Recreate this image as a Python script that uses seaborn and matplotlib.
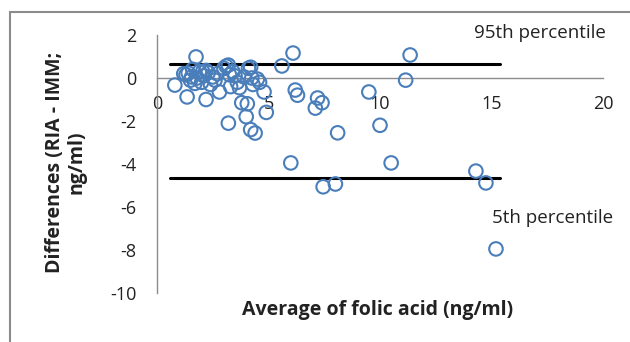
import matplotlib
matplotlib.use("Agg")
import matplotlib.pyplot as plt
import seaborn as sns
import pandas as pd

# average of folic acid (ng/ml) and differences RIA - IMM (ng/ml)
avg_folic = [
    1.75, 1.4, 0.8, 1.35, 2.2, 3.2, 4.2, 5.6, 6.1, 6.2, 6.3, 7.2, 7.1,
    3.2, 4.0, 3.8, 4.05, 4.2, 4.4, 4.8, 4.9, 4.6,
    1.2, 1.5, 1.6, 1.8, 1.9, 2.0, 2.1, 2.3, 2.4, 2.5, 1.3, 1.7, 2.2, 2.6,
    2.8, 3.0, 3.1, 3.3, 3.4, 3.5, 3.6, 3.9, 4.1, 4.3, 4.5, 2.7, 1.55, 2.05,
    3.25, 4.25, 3.7,
    7.4, 8.1, 9.5, 10.0, 11.35, 11.15,
    6.0, 7.45, 8.0, 10.5, 14.3, 14.75, 15.2,
]
diff_ria_imm = [
    0.98, 0.23, -0.33, -0.88, -1.0, 0.6, 0.5, 0.56, 1.16, -0.56, -0.8, -0.93, -1.4,
    -2.1, -1.8, -1.15, -1.2, -2.4, -2.56, -0.65, -1.6, -0.2,
    0.2, -0.1, 0.4, 0.0, 0.3, -0.2, 0.1, 0.25, -0.3, 0.05, 0.15, -0.25, 0.35, -0.1,
    -0.65, 0.45, 0.55, -0.4, 0.3, 0.1, -0.2, 0.05, 0.45, -0.3, -0.05, 0.2, 0.05, 0.3,
    0.15, 0.0, -0.45,
    -1.15, -2.55, -0.65, -2.2, 1.07, -0.1,
    -3.95, -5.06, -4.93, -3.95, -4.33, -4.88, -7.95,
]

# percentile lines
pct_x = [0.6, 15.4]
p95 = 0.65
p5 = -4.65

df = pd.DataFrame({"avg": avg_folic, "diff": diff_ria_imm})
lines = pd.DataFrame({
    "x": pct_x * 2,
    "y": [p95, p95, p5, p5],
    "line": ["95th", "95th", "5th", "5th"],
})

sns.set_style("white")
plt.rcParams["font.family"] = ["Open Sans", "DejaVu Sans"]
plt.rcParams["axes.unicode_minus"] = False

fig = plt.figure(figsize=(6.3, 3.42), dpi=100)
ax = fig.add_axes([157 / 630, 1 - 293 / 342, (603 - 157) / 630, (293 - 35) / 342])

sns.scatterplot(data=df, x="avg", y="diff", ax=ax, s=95, marker="o",
                facecolors="none", edgecolor="#4a7ebb", linewidth=1.5,
                legend=False, clip_on=False, zorder=3)
sns.lineplot(data=lines, x="x", y="y", units="line", estimator=None,
             color="black", linewidth=2.2, ax=ax, legend=False, zorder=2)

ax.set_xlim(0, 20)
ax.set_ylim(-10, 2)
ax.set_xticks([0, 5, 10, 15, 20])
ax.set_yticks([2, 0, -2, -4, -6, -8, -10])
ax.spines["bottom"].set_position(("data", 0))
ax.spines["top"].set_visible(False)
ax.spines["right"].set_visible(False)
for s in ["left", "bottom"]:
    ax.spines[s].set_color("#8c8c8c")
    ax.spines[s].set_linewidth(1.0)
ax.tick_params(axis="both", which="major", direction="out", length=5,
               color="#8c8c8c", labelsize=13, labelcolor="#222222")
ax.tick_params(axis="y", pad=10)
ax.tick_params(axis="x", pad=7)

ax.set_xlabel("")
ax.set_ylabel("")
fig.text(378 / 630, 1 - 310 / 342, "Average of folic acid (ng/ml)",
         ha="center", va="center", fontsize=14, fontweight="bold", color="#222222")
fig.text(66 / 630, 1 - 162 / 342, "Differences (RIA - IMM;\nng/ml)",
         ha="center", va="center", rotation=90, fontsize=14,
         fontweight="bold", color="#222222", linespacing=1.1)

ax.text(14.2, 2.1, "95th percentile", fontsize=13.5, color="#222222",
        ha="left", va="center", clip_on=False)
ax.text(15.0, -6.5, "5th percentile", fontsize=13.5, color="#222222",
        ha="left", va="center", clip_on=False)

# outer frame (left and top edges visible)
fig.add_artist(plt.Line2D([10 / 630, 10 / 630], [0, 1 - 12 / 342],
                          color="#8c8c8c", linewidth=1.5))
fig.add_artist(plt.Line2D([10 / 630, 1], [1 - 12 / 342, 1 - 12 / 342],
                          color="#8c8c8c", linewidth=1.5))

fig.savefig("out.png", dpi=100)
